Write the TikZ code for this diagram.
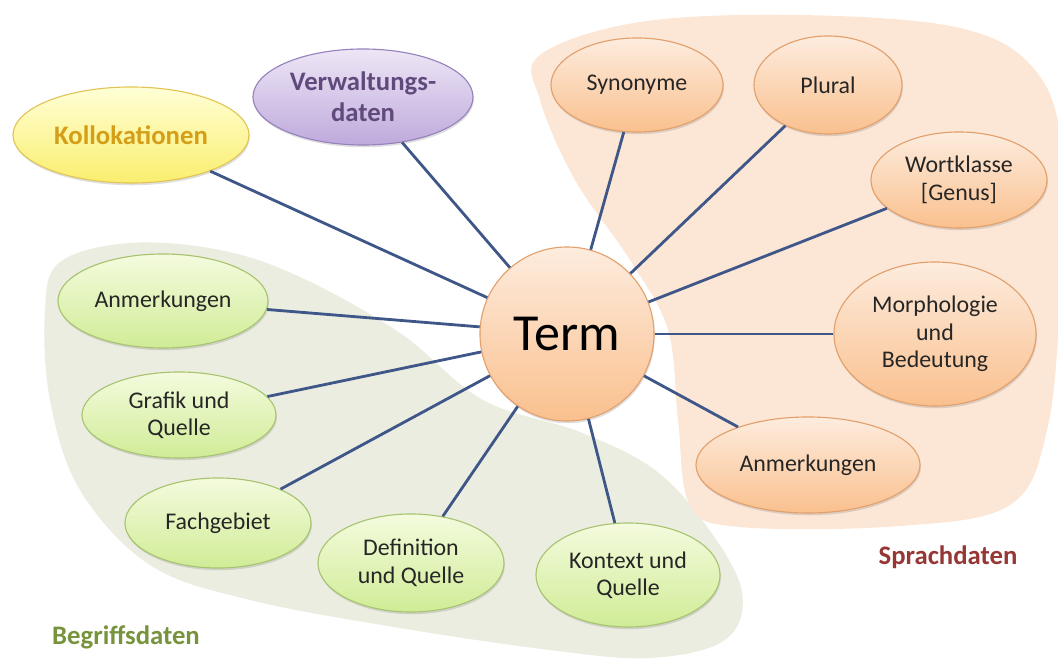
\documentclass[tikz,border=0pt]{standalone}
\usepackage{fontspec}
\setmainfont{Carlito}
\usetikzlibrary{shapes.geometric,shadows}

\definecolor{linkblue}{RGB}{62,86,136}
\definecolor{greenzone}{RGB}{234,237,224}
\definecolor{peachzone}{RGB}{252,230,214}
\definecolor{peachtop}{RGB}{253,236,222}
\definecolor{peachbot}{RGB}{250,192,142}
\definecolor{peachline}{RGB}{226,160,108}
\definecolor{greentop}{RGB}{244,251,222}
\definecolor{greenbot}{RGB}{208,236,150}
\definecolor{greenline}{RGB}{168,196,112}
\definecolor{yellowtop}{RGB}{255,255,214}
\definecolor{yellowbot}{RGB}{250,238,110}
\definecolor{yellowline}{RGB}{226,196,86}
\definecolor{violettop}{RGB}{238,230,246}
\definecolor{violetbot}{RGB}{190,170,220}
\definecolor{violetline}{RGB}{150,130,188}
\definecolor{goldtext}{RGB}{212,158,24}
\definecolor{violettext}{RGB}{96,74,124}
\definecolor{olivetext}{RGB}{119,147,60}
\definecolor{redtext}{RGB}{149,55,53}
\definecolor{bodytext}{RGB}{38,38,38}

\tikzset{
  bubble/.style={ellipse, inner sep=0pt, align=center, text=bodytext,
    font=\fontsize{17}{19.5}\selectfont, line width=0.8pt,
    drop shadow={shadow xshift=0.6pt, shadow yshift=-1.6pt, opacity=0.25}},
  lang/.style={bubble, draw=peachline, top color=peachtop, bottom color=peachbot},
  concept/.style={bubble, draw=greenline, top color=greentop, bottom color=greenbot},
  colloc/.style={bubble, draw=yellowline, top color=yellowtop, bottom color=yellowbot,
    text=goldtext, font=\fontsize{19}{22}\selectfont\bfseries},
  admin/.style={bubble, draw=violetline, top color=violettop, bottom color=violetbot,
    text=violettext, font=\fontsize{19}{22}\selectfont\bfseries},
  link/.style={draw=linkblue, line width=2pt},
  zonelabel/.style={font=\fontsize{19}{22}\selectfont\bfseries}
}

\begin{document}
\begin{tikzpicture}[x=0.025cm, y=-0.025cm]
\clip (0,0) rectangle (1058,662);

% background zones
\fill[greenzone] plot[smooth cycle, tension=0.6] coordinates {
  (60,262) (130,243) (220,250) (300,277) (400,333) (483,400) (580,432)
  (655,470) (708,528) (742,592) (725,640) (650,658) (550,650) (400,628)
  (250,600) (150,565) (80,490) (50,400) (45,310)};
\fill[peachzone] plot[smooth cycle, tension=0.6] coordinates {
  (540,55) (640,22) (800,15) (960,28) (1035,70) (1062,150) (1060,300)
  (1047,430) (1010,505) (900,526) (740,527) (690,505) (678,420)
  (668,330) (630,260) (575,180) (540,100)};

% central term
\node[lang, circle, minimum size=4.35cm, font=\fontsize{37}{40}\selectfont, text=black] (term) at (567,334) {Term};

% language data
\node[lang, minimum width=4.3cm, minimum height=2.35cm] (syn) at (637,85) {Synonyme};
\node[lang, minimum width=3.7cm, minimum height=2.45cm] (plu) at (828,85) {Plural};
\node[lang, minimum width=4.4cm, minimum height=2.4cm] (wkl) at (959,180) {Wortklasse\\{}[Genus]};
\node[lang, minimum width=5.05cm, minimum height=3.6cm] (mor) at (935,334) {Morphologie\\und\\Bedeutung};
\node[lang, minimum width=5.6cm, minimum height=2.4cm] (anr) at (808,465) {Anmerkungen};

% concept data
\node[concept, minimum width=5.25cm, minimum height=2.35cm] (anl) at (163,301) {Anmerkungen};
\node[concept, minimum width=4.85cm, minimum height=2.15cm] (gra) at (179,415) {Grafik und\\Quelle};
\node[concept, minimum width=4.65cm, minimum height=2.25cm] (fac) at (218,523) {Fachgebiet};
\node[concept, minimum width=4.65cm, minimum height=2.45cm] (def) at (411,563) {Definition\\und Quelle};
\node[concept, minimum width=4.6cm, minimum height=2.6cm] (kon) at (628,575) {Kontext und\\Quelle};

% other data
\node[colloc, minimum width=5.9cm, minimum height=2.4cm] (kol) at (131,135) {Kollokationen};
\node[admin, minimum width=5.5cm, minimum height=2.4cm] (ver) at (363,97) {Verwaltungs-\\daten};

% connectors
\foreach \n in {syn,plu,wkl,mor,anr,anl,gra,fac,def,kon,kol,ver}
  \draw[link] (term) -- (\n);

% zone labels
\node[zonelabel, text=olivetext] (begr) at (126,637) {Begriffsdaten};
\node[zonelabel, text=redtext] (spra) at (948,557) {Sprachdaten};
\end{tikzpicture}
\end{document}
